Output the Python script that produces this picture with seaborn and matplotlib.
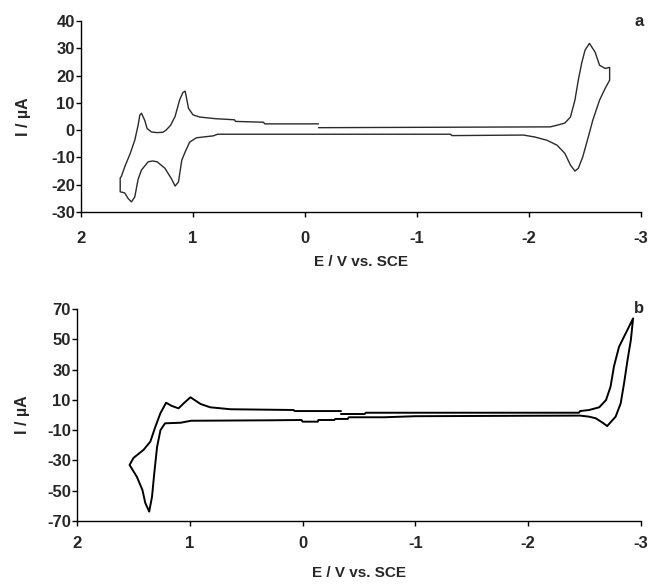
"""
Cyclic voltammograms, panels a and b.
"""
import matplotlib

matplotlib.use("Agg")
import matplotlib.pyplot as plt
import numpy as np
import pandas as pd
import seaborn as sns

# ---------------- panel a (scan order, starts near -0.12 V) ----------------
E_a = [
    -0.12, 0.36, 0.37, 0.62, 0.63, 0.80, 0.94, 1.00, 1.04, 1.07, 1.09, 1.12,
    1.16, 1.20, 1.24, 1.27, 1.32, 1.37, 1.41, 1.43, 1.46, 1.475, 1.49, 1.52,
    1.56, 1.61, 1.64, 1.65, 1.65,
    1.61, 1.58, 1.55, 1.52, 1.49, 1.46, 1.40, 1.36, 1.32, 1.25, 1.19, 1.16,
    1.13, 1.10, 1.07, 1.03, 0.97, 0.82, 0.78, -1.30, -1.31, -1.95, -2.05,
    -2.16, -2.25, -2.32, -2.37, -2.41, -2.44, -2.48, -2.53, -2.57, -2.63,
    -2.68, -2.72, -2.72,
    -2.68, -2.63, -2.59, -2.54, -2.50, -2.47, -2.44, -2.41, -2.37, -2.32,
    -2.25, -2.19, -0.12,
]
I_a = [
    2.3, 2.3, 2.9, 3.2, 3.8, 4.2, 4.8, 5.6, 8.0, 14.3, 13.8, 11.0,
    5.0, 1.8, 0.0, -0.8, -0.9, -0.7, 0.6, 3.5, 6.2, 5.5, 1.8, -3.7,
    -8.5, -13.5, -17.0, -17.5, -22.6,
    -23.0, -25.0, -26.3, -24.5, -18.0, -14.6, -11.6, -11.3, -11.6, -14.0,
    -18.0, -20.5, -19.0, -11.0, -8.0, -4.4, -2.8, -2.1, -1.5, -1.5, -2.0,
    -1.8, -2.5, -3.7, -5.5, -8.5, -12.8, -15.0, -14.0, -9.8, -2.4, 3.7,
    11.0, 15.3, 18.3, 23.0,
    22.6, 23.8, 28.6, 31.8, 29.3, 24.5, 18.3, 11.0, 4.8, 2.6,
    1.8, 1.2, 0.9,
]

# ---------------- panel b (scan order, starts near -0.34 V) ----------------
E_b = [
    -0.34, 0.07, 0.08, 0.64, 0.82, 0.905, 0.994, 1.05, 1.10, 1.16, 1.21,
    1.26, 1.305, 1.35, 1.41, 1.50, 1.534,
    1.47, 1.42, 1.395, 1.36, 1.335, 1.315, 1.29, 1.26, 1.22, 1.08, 0.99,
    0.30, 0.01, 0.0, -0.135, -0.14, -0.28, -0.29, -0.40, -0.41, -0.72,
    -1.00, -2.00, -2.46, -2.54, -2.60, -2.66, -2.70, -2.775, -2.82, -2.85,
    -2.88, -2.91, -2.93,
    -2.865, -2.805, -2.76, -2.73, -2.69, -2.63, -2.54, -2.46, -2.45, -0.56,
    -0.55, -0.34,
]
I_b = [
    2.6, 2.6, 3.3, 3.8, 5.1, 7.3, 11.7, 8.0, 4.4, 6.0, 8.1,
    1.3, -7.7, -17.6, -23.0, -28.4, -33.0,
    -40.7, -49.5, -58.0, -63.8, -54.0, -38.5, -21.0, -10.0, -5.5, -5.1, -3.8,
    -3.5, -3.3, -4.4, -4.4, -3.3, -3.3, -2.6, -2.6, -1.5, -1.5,
    -0.8, -0.5, -0.4, -1.1, -2.2, -5.1, -7.3, -1.1, 7.7, 21.0,
    36.0, 49.5, 63.8,
    54.0, 45.0, 32.0, 18.7, 9.9, 5.1, 3.3, 2.6, 1.5, 1.5,
    0.66, 0.66,
]

x_ticks = [2, 1, 0, -1, -2, -3]
y_ticks_a = [-30, -20, -10, 0, 10, 20, 30, 40]
y_ticks_b = [-70, -50, -30, -10, 10, 30, 50, 70]

sns.set_style("ticks")
plt.rcParams["font.family"] = ["Liberation Sans", "DejaVu Sans"]
plt.rcParams["font.weight"] = "bold"

fig = plt.figure(figsize=(6.48, 5.84), dpi=100)
ax_a = fig.add_axes([81 / 648, 1 - 212 / 584, 560 / 648, 191 / 584])
ax_b = fig.add_axes([77 / 648, 1 - 521 / 584, 564 / 648, 212 / 584])

df_a = pd.DataFrame({"E": E_a, "I": I_a})
df_b = pd.DataFrame({"E": E_b, "I": I_b})

sns.lineplot(data=df_a, x="E", y="I", sort=False, estimator=None,
             color="#2a2a2a", linewidth=1.0, ax=ax_a)
sns.lineplot(data=df_b, x="E", y="I", sort=False, estimator=None,
             color="black", linewidth=1.4, ax=ax_b)

for ax, yt, lab in [(ax_a, y_ticks_a, "a"), (ax_b, y_ticks_b, "b")]:
    ax.set_xlim(2, -3)
    ax.set_ylim(yt[0], yt[-1])
    ax.set_xticks(x_ticks)
    ax.set_yticks(yt)
    ax.set_xticklabels([str(t) for t in x_ticks])
    ax.set_yticklabels([str(t) for t in yt])
    for s in ["top", "right"]:
        ax.spines[s].set_visible(False)
    for s in ["left", "bottom"]:
        ax.spines[s].set_color("black")
        ax.spines[s].set_linewidth(1.0)
    ax.tick_params(axis="both", direction="out", length=3.5, width=1.0,
                   color="black", labelsize=12)
    ax.tick_params(axis="y", pad=1)
    ax.set_ylabel("I / µA", fontsize=11.5, fontweight="bold", labelpad=14)
    ax.set_xlabel("E / V vs. SCE", fontsize=11, fontweight="bold")
    ax.text(1.005, 1.0, lab, transform=ax.transAxes, ha="right", va="center",
            fontsize=12, fontweight="bold")

ax_a.tick_params(axis="x", pad=10)
ax_a.xaxis.labelpad = 7
ax_b.tick_params(axis="x", pad=7)
ax_b.xaxis.labelpad = 11
ax_b.yaxis.labelpad = 12

fig.savefig("out.png", dpi=100)
